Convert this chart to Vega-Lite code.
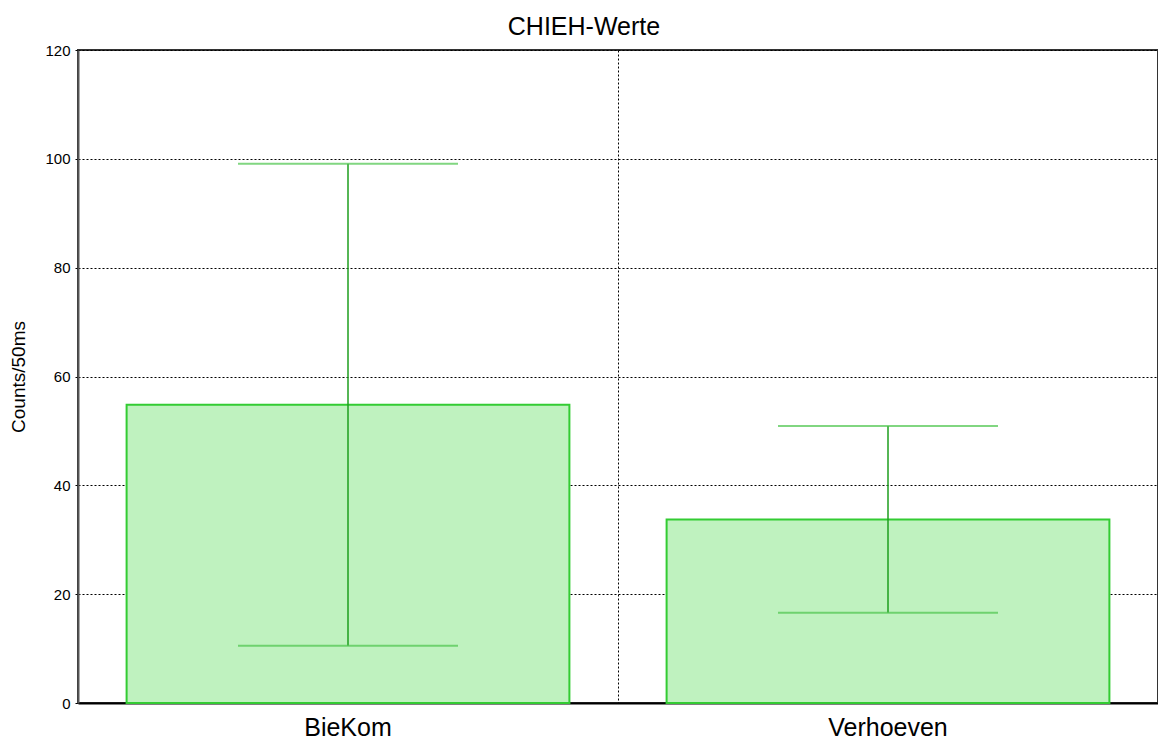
{
  "$schema": "https://vega.github.io/schema/vega-lite/v6.json",
  "autosize": {"type": "none"},
  "padding": {"left": 78, "top": 50, "right": 0, "bottom": 39},
  "width": 1080,
  "height": 653,
  "background": "white",
  "title": {
    "text": "CHIEH-Werte",
    "font": "Liberation Sans",
    "fontSize": 25,
    "fontWeight": "normal",
    "color": "black",
    "anchor": "middle",
    "frame": "bounds",
    "offset": 3
  },
  "data": {
    "values": [
      {"group": "BieKom", "mean": 54.8, "low": 10.5, "high": 99.1},
      {"group": "Verhoeven", "mean": 33.7, "low": 16.6, "high": 50.9}
    ]
  },
  "encoding": {
    "x": {
      "field": "group",
      "type": "nominal",
      "sort": null,
      "scale": {"paddingInner": 0, "paddingOuter": 0},
      "axis": {
        "title": null,
        "labelAngle": 0,
        "labelFont": "Liberation Sans",
        "labelFontSize": 25,
        "labelColor": "black",
        "labelPadding": 12,
        "ticks": false,
        "domainColor": "black",
        "domainWidth": 2,
        "grid": true,
        "gridColor": "black",
        "gridDash": [2, 2],
        "gridWidth": 1,
        "bandPosition": 0
      }
    }
  },
  "layer": [
    {
      "mark": {"type": "bar", "width": {"band": 0.82}, "fill": "#bff2bf", "stroke": "#33cc33", "strokeWidth": 2},
      "encoding": {
        "y": {
          "field": "mean",
          "type": "quantitative",
          "scale": {"domain": [0, 120], "nice": false},
          "axis": {
            "title": "Counts/50ms",
            "titleFont": "Liberation Sans",
            "titleFontSize": 19,
            "titleFontWeight": "normal",
            "titleColor": "black",
            "titlePadding": 16,
            "values": [0, 20, 40, 60, 80, 100, 120],
            "labelFont": "Liberation Sans",
            "labelFontSize": 15,
            "labelColor": "black",
            "labelPadding": 5,
            "tickSize": 3,
            "tickColor": "black",
            "domainColor": "#555555",
            "domainWidth": 2,
            "grid": true,
            "gridColor": "black",
            "gridDash": [2, 2],
            "gridWidth": 1
          }
        }
      }
    },
    {
      "mark": {"type": "rule", "color": "#1e9e1e", "strokeWidth": 1.5},
      "encoding": {
        "y": {"field": "low", "type": "quantitative"},
        "y2": {"field": "high"}
      }
    },
    {
      "mark": {"type": "tick", "color": "#4cc44c", "thickness": 2, "size": 220, "orient": "horizontal"},
      "encoding": {
        "y": {"field": "low", "type": "quantitative"}
      }
    },
    {
      "mark": {"type": "tick", "color": "#4cc44c", "thickness": 2, "size": 220, "orient": "horizontal"},
      "encoding": {
        "y": {"field": "high", "type": "quantitative"}
      }
    }
  ],
  "config": {
    "view": {"stroke": "#333333", "strokeWidth": 2}
  }
}
